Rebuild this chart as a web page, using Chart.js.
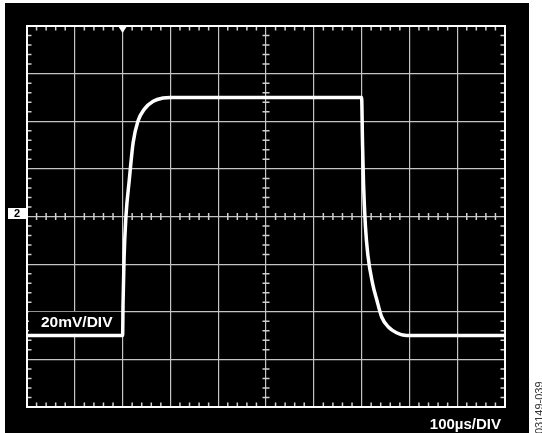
<!DOCTYPE html>
<html>
<head>
<meta charset="utf-8">
<script src="https://cdn.jsdelivr.net/npm/chart.js@4/dist/chart.umd.min.js"></script>
<style>
  html, body { margin: 0; padding: 0; background: #fff; }
  canvas { display: block; }
</style>
</head>
<body>
<canvas id="chart-scope" width="542" height="433"></canvas>
<script>
// time axis in divisions (100us/DIV), 10 divisions
const xDiv = [0, 2.0, 2.01, 2.03, 2.07, 2.14, 2.22, 2.32, 2.46, 2.64, 2.85, 3.0,
              7.0, 7.02, 7.04, 7.08, 7.13, 7.23, 7.32, 7.42, 7.56, 7.73, 7.94, 10];
// amplitude in divisions (20mV/DIV), 8 divisions, centre = 0
const yDiv = [-2.5, -2.5, -1.8, -0.9, 0, 0.77, 1.55, 2.0, 2.26, 2.42, 2.49, 2.5,
              2.5, 1.5, 0.7, -0.2, -0.8, -1.41, -1.76, -2.11, -2.32, -2.44, -2.5, -2.5];

const xRange = [0, 10];
const yRange = [-4, 4];
const voltLabel = '20mV/DIV';
const timeLabel = '100µs/DIV';
const channelLabel = '2';
const figureId = '03149-039';
const triggerAt = 2;

const GRID = '#c4c4c4';
const TICK = '#d0d0d0';

const scopePlugin = {
  id: 'scope',
  beforeDraw(chart) {
    const c = chart.ctx;
    c.save();
    c.fillStyle = '#fff';
    c.fillRect(0, 0, chart.width, chart.height);
    c.fillStyle = '#000';
    c.fillRect(5, 3, 524, 430);
    c.restore();
  },
  beforeDatasetsDraw(chart) {
    const c = chart.ctx;
    const xs = chart.scales.x, ys = chart.scales.y;
    const { left, right, top, bottom } = chart.chartArea;
    const cx = xs.getPixelForValue(5), cy = ys.getPixelForValue(0);
    c.save();

    // minor ticks: 5 per division on frame and centre axes
    c.strokeStyle = TICK;
    c.lineWidth = 1.5;
    c.beginPath();
    for (let k = 1; k < 50; k++) {
      if (k % 5 === 0) continue;
      const px = xs.getPixelForValue(k * 0.2);
      c.moveTo(px, top); c.lineTo(px, top + 4.5);
      c.moveTo(px, bottom); c.lineTo(px, bottom - 4.5);
      c.moveTo(px, cy - 3.5); c.lineTo(px, cy + 3.5);
    }
    for (let k = 1; k < 40; k++) {
      if (k % 5 === 0) continue;
      const py = ys.getPixelForValue(-4 + k * 0.2);
      c.moveTo(left, py); c.lineTo(left + 4.5, py);
      c.moveTo(right, py); c.lineTo(right - 4.5, py);
      c.moveTo(cx - 3.5, py); c.lineTo(cx + 3.5, py);
    }
    c.stroke();

    // frame
    c.strokeStyle = '#fff';
    c.lineWidth = 2;
    c.strokeRect(left, top, right - left, bottom - top);

    // trigger marker
    const tx = xs.getPixelForValue(triggerAt);
    c.fillStyle = '#fff';
    c.beginPath();
    c.moveTo(tx - 4.5, top);
    c.lineTo(tx + 4.5, top);
    c.lineTo(tx, top + 7);
    c.closePath();
    c.fill();

    // channel marker
    c.fillStyle = '#fff';
    c.fillRect(8, cy - 8.5, 19, 11);
    c.fillStyle = '#000';
    c.font = 'bold 11px "Liberation Sans", Arial, sans-serif';
    c.textAlign = 'center';
    c.textBaseline = 'middle';
    c.fillText(channelLabel, 17, cy - 3);

    // volts/div label box
    c.fillStyle = '#000';
    c.fillRect(left + 2, ys.getPixelForValue(-2.0), 92, 22);
    c.fillStyle = '#fff';
    c.font = 'bold 15.5px "Liberation Sans", Arial, sans-serif';
    c.textAlign = 'left';
    c.textBaseline = 'alphabetic';
    c.fillText(voltLabel, 41, 326.5);

    c.restore();
  },
  afterDraw(chart) {
    const c = chart.ctx;
    c.save();
    c.fillStyle = '#fff';
    c.font = 'bold 15px "Liberation Sans", Arial, sans-serif';
    c.textAlign = 'right';
    c.textBaseline = 'alphabetic';
    c.fillText(timeLabel, 501, 429);

    c.translate(543, 434);
    c.rotate(-Math.PI / 2);
    c.fillStyle = '#333';
    c.font = '11px "Liberation Sans", Arial, sans-serif';
    c.textAlign = 'left';
    c.fillText(figureId, 0, 0);
    c.restore();
  }
};

new Chart(document.getElementById('chart-scope'), {
  type: 'line',
  data: {
    datasets: [{
      data: xDiv.map((x, i) => ({ x, y: yDiv[i] })),
      borderColor: '#fff',
      borderWidth: 3.5,
      pointRadius: 0,
      cubicInterpolationMode: 'monotone',
      borderCapStyle: 'round',
      borderJoinStyle: 'round',
      fill: false
    }]
  },
  options: {
    responsive: false,
    animation: false,
    devicePixelRatio: 1,
    layout: { padding: { left: 27, top: 26, right: 37, bottom: 26 } },
    plugins: { legend: { display: false }, tooltip: { enabled: false } },
    scales: {
      x: {
        type: 'linear', min: xRange[0], max: xRange[1],
        ticks: { display: false, stepSize: 1 },
        grid: { color: GRID, lineWidth: 1.2, drawTicks: false },
        border: { display: false }
      },
      y: {
        type: 'linear', min: yRange[0], max: yRange[1],
        ticks: { display: false, stepSize: 1 },
        grid: { color: GRID, lineWidth: 1.2, drawTicks: false },
        border: { display: false }
      }
    }
  },
  plugins: [scopePlugin]
});
</script>
</body>
</html>
